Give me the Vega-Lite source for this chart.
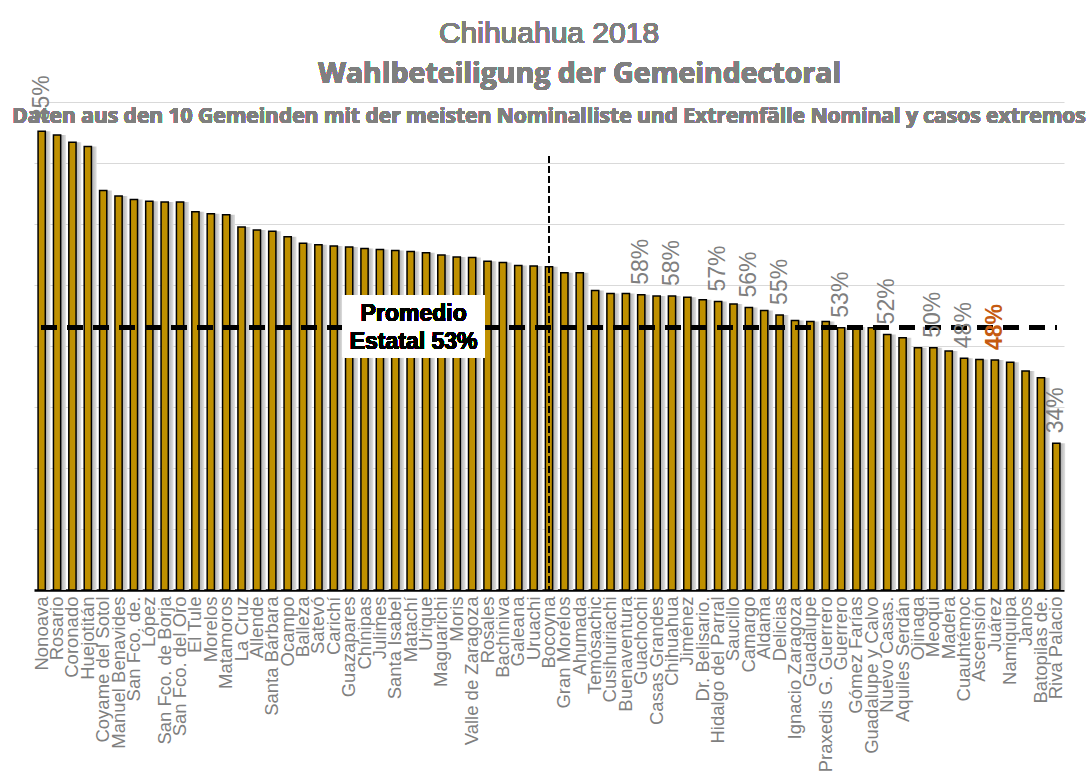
{
  "$schema": "https://vega.github.io/schema/vega-lite/v6.json",
  "width": 1030,
  "height": 488,
  "autosize": {"type": "none"},
  "padding": {"left": 34, "top": 102, "right": 28, "bottom": 181},
  "background": "white",
  "config": {"view": {"stroke": null}, "font": "Liberation Sans"},
  "data": {"values": [
    {"name": "Nonoava", "value": 85.2, "label": "85%"},
    {"name": "Rosario", "value": 84.6},
    {"name": "Coronado", "value": 83.4},
    {"name": "Huejotitán", "value": 82.7},
    {"name": "Coyame del Sotol", "value": 75.5},
    {"name": "Manuel Benavides", "value": 74.6},
    {"name": "San Fco. de.", "value": 74.0},
    {"name": "López", "value": 73.75},
    {"name": "San Fco. de Borja", "value": 73.6},
    {"name": "San Fco. del Oro", "value": 73.6},
    {"name": "El Tule", "value": 72.0},
    {"name": "Morelos", "value": 71.7},
    {"name": "Matamoros", "value": 71.5},
    {"name": "La Cruz", "value": 69.5},
    {"name": "Allende", "value": 69.0},
    {"name": "Santa Bárbara", "value": 68.8},
    {"name": "Ocampo", "value": 67.9},
    {"name": "Balleza", "value": 66.85},
    {"name": "Satevó", "value": 66.6},
    {"name": "Carichí", "value": 66.4},
    {"name": "Guazapares", "value": 66.25},
    {"name": "Chínipas", "value": 66.0},
    {"name": "Julimes", "value": 65.8},
    {"name": "Santa Isabel", "value": 65.65},
    {"name": "Matachí", "value": 65.5},
    {"name": "Urique", "value": 65.3},
    {"name": "Maguarichi", "value": 64.9},
    {"name": "Moris", "value": 64.6},
    {"name": "Valle de Zaragoza", "value": 64.5},
    {"name": "Rosales", "value": 63.9},
    {"name": "Bachíniva", "value": 63.7},
    {"name": "Galeana", "value": 63.2},
    {"name": "Uruachi", "value": 63.1},
    {"name": "Bocoyna", "value": 63.0},
    {"name": "Gran Morelos", "value": 62.0},
    {"name": "Ahumada", "value": 62.0},
    {"name": "Temósachic", "value": 59.1},
    {"name": "Cusihuiriachi", "value": 58.6},
    {"name": "Buenaventura", "value": 58.6},
    {"name": "Guachochi", "value": 58.4, "label": "58%"},
    {"name": "Casas Grandes", "value": 58.2},
    {"name": "Chihuahua", "value": 58.2, "label": "58%"},
    {"name": "Jiménez", "value": 58.0},
    {"name": "Dr. Belisario.", "value": 57.6},
    {"name": "Hidalgo del Parral", "value": 57.3, "label": "57%"},
    {"name": "Saucillo", "value": 56.9},
    {"name": "Camargo", "value": 56.3, "label": "56%"},
    {"name": "Aldama", "value": 55.8},
    {"name": "Delicias", "value": 55.1, "label": "55%"},
    {"name": "Ignacio Zaragoza", "value": 54.2},
    {"name": "Guadalupe", "value": 54.0},
    {"name": "Praxedis G. Guerrero", "value": 54.0},
    {"name": "Guerrero", "value": 53.0, "label": "53%"},
    {"name": "Gómez Farías", "value": 53.1},
    {"name": "Guadalupe y Calvo", "value": 53.0},
    {"name": "Nuevo Casas.", "value": 51.9, "label": "52%"},
    {"name": "Aquiles Serdán", "value": 51.35},
    {"name": "Ojinaga", "value": 49.7},
    {"name": "Meoqui", "value": 49.7, "label": "50%"},
    {"name": "Madera", "value": 49.2},
    {"name": "Cuauhtémoc", "value": 48.0, "label": "48%"},
    {"name": "Ascensión", "value": 47.8},
    {"name": "Juárez", "value": 47.7, "label": "48%"},
    {"name": "Namiquipa", "value": 47.35},
    {"name": "Janos", "value": 45.9},
    {"name": "Batopilas de.", "value": 44.8},
    {"name": "Riva Palacio", "value": 34.05, "label": "34%"}
  ]},
  "layer": [
    {
      "mark": {"type": "bar", "width": {"band": 0.5}, "xOffset": 5, "color": {"gradient": "linear", "x1": 0, "x2": 1, "y1": 0, "y2": 0, "stops": [{"offset": 0, "color": "#9e9e9e"}, {"offset": 0.55, "color": "#bcbcbc"}, {"offset": 1, "color": "#e2e2e2"}]}},
      "encoding": {
        "x": {"field": "name", "type": "nominal", "sort": null, "scale": {"paddingInner": 0, "paddingOuter": 0},
          "axis": {"title": null, "labelAngle": -90, "labelFontSize": 18.5, "labelColor": "#7f7f7f", "labelFont": "Liberation Sans", "labelPadding": 6, "ticks": false, "domainColor": "black", "domainWidth": 2.5, "labelLimit": 400, "labelOverlap": false, "grid": false}},
        "y": {"field": "value", "type": "quantitative", "scale": {"domain": [10, 90]},
          "axis": {"title": null, "labels": false, "ticks": false, "domain": false, "grid": true, "gridColor": "#d9d9d9", "gridWidth": 1, "values": [20, 30, 40, 50, 60, 70, 80, 90]}},
        "y2": {"datum": 10}
      }
    },
    {
      "mark": {"type": "bar", "width": {"band": 0.47}, "color": "#BF9000", "stroke": "black", "strokeWidth": 1.5},
      "encoding": {
        "x": {"field": "name", "type": "nominal", "sort": null},
        "y": {"field": "value", "type": "quantitative"},
        "y2": {"datum": 10}
      }
    },
    {
      "mark": {"type": "rule", "strokeDash": [15, 11], "strokeWidth": 4, "color": "black"},
      "encoding": {
        "x": {"datum": "Nonoava"},
        "x2": {"datum": "Riva Palacio"},
        "y": {"datum": 53}
      }
    },
    {
      "mark": {"type": "rule", "strokeDash": [6, 4], "strokeWidth": 1, "color": "black"},
      "encoding": {
        "x": {"datum": "Bocoyna"},
        "y": {"datum": 81},
        "y2": {"datum": 10}
      }
    },
    {
      "mark": {"type": "bar", "width": 142, "xOffset": 3, "color": "white"},
      "encoding": {
        "x": {"datum": "Matachí"},
        "y": {"datum": 58.3},
        "y2": {"datum": 48.15}
      }
    },
    {
      "mark": {"type": "text", "text": ["Promedio", "Estatal 53%"], "fontSize": 23, "fontWeight": "bold", "font": "Liberation Sans", "color": "black", "lineHeight": 28, "xOffset": 3, "dy": -14, "baseline": "middle", "align": "center"},
      "encoding": {
        "x": {"datum": "Matachí"},
        "y": {"datum": 53}
      }
    },
    {
      "transform": [{"filter": "datum.label != null && datum.name != 'Juárez'"}],
      "mark": {"type": "text", "angle": 270, "align": "left", "baseline": "middle", "dx": 10, "fontSize": 23, "font": "Liberation Sans", "color": "#7f7f7f"},
      "encoding": {
        "x": {"field": "name", "type": "nominal", "sort": null},
        "y": {"field": "value", "type": "quantitative"},
        "text": {"field": "label"}
      }
    },
    {
      "transform": [{"filter": "datum.name == 'Juárez'"}],
      "mark": {"type": "text", "angle": 270, "align": "left", "baseline": "middle", "dx": 10, "fontSize": 23, "fontWeight": "bold", "font": "Liberation Sans", "color": "#C55A11"},
      "encoding": {
        "x": {"field": "name", "type": "nominal", "sort": null},
        "y": {"field": "value", "type": "quantitative"},
        "text": {"field": "label"}
      }
    },
    {
      "mark": {"type": "text", "text": "Chihuahua 2018", "fontSize": 30, "fontWeight": "normal", "font": "Liberation Sans", "color": "#7f7f7f", "baseline": "middle", "align": "center"},
      "encoding": {
        "x": {"datum": "Bocoyna"},
        "y": {"datum": 101.1}
      }
    },
    {
      "mark": {"type": "text", "text": "Wahlbeteiligung der Gemeindectoral", "fontSize": 28.5, "fontWeight": "bold", "font": "Open Sans", "color": "#7f7f7f", "baseline": "middle", "align": "center"},
      "encoding": {
        "x": {"datum": "Ahumada"},
        "y": {"datum": 94.6}
      }
    },
    {
      "mark": {"type": "text", "text": "Daten aus den 10 Gemeinden mit der meisten Nominalliste und Extremfälle Nominal y casos extremos", "fontSize": 21, "fontWeight": "bold", "font": "Open Sans", "color": "#7f7f7f", "baseline": "middle", "align": "center"},
      "encoding": {
        "x": {"datum": "Bocoyna"},
        "y": {"datum": 87.6}
      }
    }
  ]
}
